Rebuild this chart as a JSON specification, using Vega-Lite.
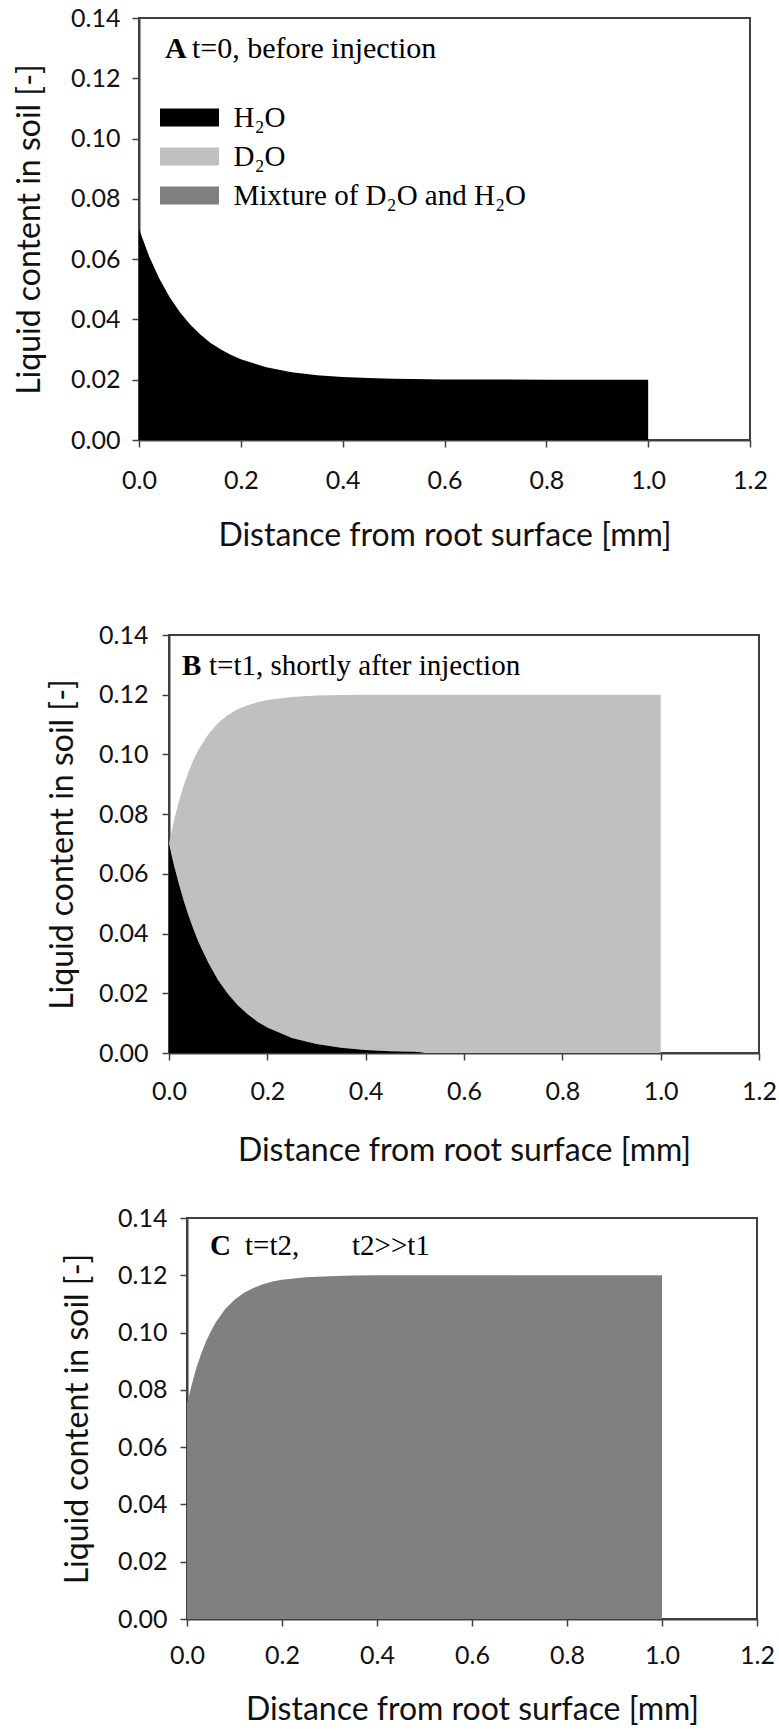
{
  "$schema": "https://vega.github.io/schema/vega-lite/v6.json",
  "padding": {"left": 0, "top": 5, "right": 0, "bottom": 0},
  "autosize": {"type": "pad"},
  "spacing": 70,
  "config": {
    "font": "Lato",
    "view": {"stroke": "#404040", "strokeWidth": 2},
    "axis": {
      "grid": false,
      "domainColor": "#404040",
      "domainWidth": 2,
      "tickColor": "#404040",
      "tickWidth": 1.5,
      "tickSize": 7,
      "labelFont": "Lato",
      "labelFontSize": 25,
      "labelColor": "#111111",
      "titleFont": "Lato",
      "titleFontSize": 32,
      "titleFontWeight": "normal",
      "titleColor": "#111111"
    }
  },
  "datasets": {
    "a": [
      {"x": 0, "h2o": 0.07}, {"x": 0.02, "h2o": 0.0609}, {"x": 0.04, "h2o": 0.0535}, {"x": 0.06, "h2o": 0.0474},
      {"x": 0.08, "h2o": 0.0425}, {"x": 0.1, "h2o": 0.0384}, {"x": 0.12, "h2o": 0.0351}, {"x": 0.14, "h2o": 0.0323},
      {"x": 0.16, "h2o": 0.0301}, {"x": 0.18, "h2o": 0.0283}, {"x": 0.2, "h2o": 0.0268}, {"x": 0.25, "h2o": 0.0241},
      {"x": 0.3, "h2o": 0.0225}, {"x": 0.35, "h2o": 0.0215}, {"x": 0.4, "h2o": 0.0209}, {"x": 0.45, "h2o": 0.0206},
      {"x": 0.5, "h2o": 0.0203}, {"x": 0.6, "h2o": 0.0201}, {"x": 0.8, "h2o": 0.02}, {"x": 1.0, "h2o": 0.02}
    ],
    "b": [
      {"x": 0, "h2o": 0.07, "total": 0.07}, {"x": 0.01, "h2o": 0.063, "total": 0.0777},
      {"x": 0.02, "h2o": 0.0567, "total": 0.0842}, {"x": 0.03, "h2o": 0.051, "total": 0.0897},
      {"x": 0.04, "h2o": 0.0459, "total": 0.0943}, {"x": 0.05, "h2o": 0.0414, "total": 0.0983},
      {"x": 0.06, "h2o": 0.0372, "total": 0.1016}, {"x": 0.08, "h2o": 0.0302, "total": 0.1068},
      {"x": 0.1, "h2o": 0.0244, "total": 0.1106}, {"x": 0.12, "h2o": 0.0198, "total": 0.1132},
      {"x": 0.14, "h2o": 0.016, "total": 0.1152}, {"x": 0.16, "h2o": 0.013, "total": 0.1165},
      {"x": 0.18, "h2o": 0.0105, "total": 0.1175}, {"x": 0.2, "h2o": 0.0085, "total": 0.1182},
      {"x": 0.25, "h2o": 0.005, "total": 0.1192}, {"x": 0.3, "h2o": 0.003, "total": 0.1197},
      {"x": 0.35, "h2o": 0.0018, "total": 0.1199}, {"x": 0.4, "h2o": 0.001, "total": 0.12},
      {"x": 0.45, "h2o": 0.0006, "total": 0.12}, {"x": 0.5, "h2o": 0.0004, "total": 0.12},
      {"x": 0.52, "h2o": 0, "total": 0.12}, {"x": 0.6, "h2o": 0, "total": 0.12}, {"x": 1.0, "h2o": 0, "total": 0.12}
    ],
    "c": [
      {"x": 0, "mix": 0.075}, {"x": 0.01, "mix": 0.0819}, {"x": 0.02, "mix": 0.0878}, {"x": 0.03, "mix": 0.0927},
      {"x": 0.04, "mix": 0.0969}, {"x": 0.05, "mix": 0.1004}, {"x": 0.06, "mix": 0.1034}, {"x": 0.08, "mix": 0.1081},
      {"x": 0.1, "mix": 0.1115}, {"x": 0.12, "mix": 0.1139}, {"x": 0.14, "mix": 0.1156}, {"x": 0.16, "mix": 0.1169},
      {"x": 0.18, "mix": 0.1178}, {"x": 0.2, "mix": 0.1184}, {"x": 0.25, "mix": 0.1193}, {"x": 0.3, "mix": 0.1197},
      {"x": 0.35, "mix": 0.1199}, {"x": 0.4, "mix": 0.12}, {"x": 1.0, "mix": 0.12}
    ]
  },
  "vconcat": [
    {
      "hconcat": [
        {"width": 139, "height": 1, "view": {"stroke": null}, "data": {"values": [{}]}, "mark": {"type": "point", "opacity": 0}, "encoding": {}},
        {
          "width": 611,
          "height": 422,
          "layer": [
            {
              "data": {"name": "a"},
              "mark": {"type": "area"},
              "encoding": {
                "x": {"field": "x", "type": "quantitative", "scale": {"domain": [0, 1.2], "nice": false},
                  "axis": {"title": "Distance from root surface [mm]", "values": [0, 0.2, 0.4, 0.6, 0.8, 1, 1.2], "format": ".1f", "labelFlush": false, "labelBaseline": "middle", "labelPadding": 33, "titleBaseline": "middle", "titleY": 95}},
                "y": {"field": "h2o", "type": "quantitative", "scale": {"domain": [0, 0.14], "nice": false},
                  "axis": {"title": "Liquid content in soil  [-]", "values": [0, 0.02, 0.04, 0.06, 0.08, 0.1, 0.12, 0.14], "format": ".2f", "labelPadding": 12, "titleX": -110, "titleBaseline": "middle"}},
                "color": {"datum": "H₂O", "scale": {"domain": ["H₂O", "D₂O", "Mixture of D₂O and H₂O"], "range": ["#000000", "#c0c0c0", "#808080"]},
                  "legend": {"orient": "none", "legendX": 175, "legendY": 85, "title": null, "padding": 0,
                    "symbolType": "M-3.278,-1L3.278,-1L3.278,1L-3.278,1Z", "symbolSize": 324, "symbolStrokeWidth": 0, "symbolOpacity": 1,
                    "labelFont": "Liberation Serif", "labelFontSize": 29, "labelColor": "#000000", "labelOffset": 29.5, "labelLimit": 500, "rowPadding": 9}}
              }
            },
            {
              "data": {"values": [{"label": "A"}]},
              "mark": {"type": "text", "font": "Liberation Serif", "fontSize": 30, "fontWeight": "bold", "align": "left", "baseline": "alphabetic", "color": "#000000"},
              "encoding": {"text": {"field": "label", "type": "nominal"}, "x": {"datum": 0.0511, "type": "quantitative"}, "y": {"datum": 0.1268, "type": "quantitative"}}
            },
            {
              "data": {"values": [{"label": "t=0, before injection"}]},
              "mark": {"type": "text", "font": "Liberation Serif", "fontSize": 30, "align": "left", "baseline": "alphabetic", "color": "#000000"},
              "encoding": {"text": {"field": "label", "type": "nominal"}, "x": {"datum": 0.1041, "type": "quantitative"}, "y": {"datum": 0.1268, "type": "quantitative"}}
            }
          ]
        }
      ],
      "spacing": 0,
      "bounds": "flush"
    },
    {
      "spacing": 38,
      "vconcat": [
        {
          "hconcat": [
            {"width": 169, "height": 1, "view": {"stroke": null}, "data": {"values": [{}]}, "mark": {"type": "point", "opacity": 0}, "encoding": {}},
            {
              "width": 590,
              "height": 418,
              "layer": [
                {
                  "data": {"name": "b"},
                  "mark": {"type": "area"},
                  "encoding": {
                    "x": {"field": "x", "type": "quantitative", "scale": {"domain": [0, 1.2], "nice": false},
                      "axis": {"title": "Distance from root surface [mm]", "values": [0, 0.2, 0.4, 0.6, 0.8, 1, 1.2], "format": ".1f", "labelFlush": false, "labelBaseline": "middle", "labelPadding": 31.5, "titleBaseline": "middle", "titleY": 97}},
                    "y": {"field": "total", "type": "quantitative", "scale": {"domain": [0, 0.14], "nice": false},
                      "axis": {"title": "Liquid content in soil  [-]", "values": [0, 0.02, 0.04, 0.06, 0.08, 0.1, 0.12, 0.14], "format": ".2f", "labelPadding": 14, "titleX": -107, "titleBaseline": "middle"}},
                    "y2": {"field": "h2o"},
                    "color": {"datum": "D₂O", "scale": {"domain": ["H₂O", "D₂O", "Mixture of D₂O and H₂O"], "range": ["#000000", "#c0c0c0", "#808080"]}}
                  }
                },
                {
                  "data": {"name": "b"},
                  "mark": {"type": "area"},
                  "encoding": {
                    "x": {"field": "x", "type": "quantitative", "scale": {"domain": [0, 1.2], "nice": false},
                      "axis": {"title": "Distance from root surface [mm]", "values": [0, 0.2, 0.4, 0.6, 0.8, 1, 1.2], "format": ".1f", "labelFlush": false, "labelBaseline": "middle", "labelPadding": 31.5, "titleBaseline": "middle", "titleY": 97}},
                    "y": {"field": "h2o", "type": "quantitative", "scale": {"domain": [0, 0.14], "nice": false},
                      "axis": {"title": "Liquid content in soil  [-]", "values": [0, 0.02, 0.04, 0.06, 0.08, 0.1, 0.12, 0.14], "format": ".2f", "labelPadding": 14, "titleX": -107, "titleBaseline": "middle"}},
                    "color": {"datum": "H₂O", "scale": {"domain": ["H₂O", "D₂O", "Mixture of D₂O and H₂O"], "range": ["#000000", "#c0c0c0", "#808080"]}}
                  }
                },
                {
                  "data": {"values": [{"label": "B"}]},
                  "mark": {"type": "text", "font": "Liberation Serif", "fontSize": 29, "fontWeight": "bold", "align": "left", "baseline": "alphabetic", "color": "#000000"},
                  "encoding": {"text": {"field": "label", "type": "nominal"}, "x": {"datum": 0.0264, "type": "quantitative"}, "y": {"datum": 0.1266, "type": "quantitative"}}
                },
                {
                  "data": {"values": [{"label": "t=t1, shortly after injection"}]},
                  "mark": {"type": "text", "font": "Liberation Serif", "fontSize": 29, "align": "left", "baseline": "alphabetic", "color": "#000000"},
                  "encoding": {"text": {"field": "label", "type": "nominal"}, "x": {"datum": 0.0814, "type": "quantitative"}, "y": {"datum": 0.1266, "type": "quantitative"}}
                }
              ]
            }
          ],
          "spacing": 0,
          "bounds": "flush"
        },
        {
          "hconcat": [
            {"width": 187, "height": 1, "view": {"stroke": null}, "data": {"values": [{}]}, "mark": {"type": "point", "opacity": 0}, "encoding": {}},
            {
              "width": 570,
              "height": 401,
              "layer": [
                {
                  "data": {"name": "c"},
                  "mark": {"type": "area"},
                  "encoding": {
                    "x": {"field": "x", "type": "quantitative", "scale": {"domain": [0, 1.2], "nice": false},
                      "axis": {"title": "Distance from root surface [mm]", "values": [0, 0.2, 0.4, 0.6, 0.8, 1, 1.2], "format": ".1f", "labelFlush": false, "labelBaseline": "middle", "labelPadding": 29, "titleBaseline": "middle", "titleY": 90}},
                    "y": {"field": "mix", "type": "quantitative", "scale": {"domain": [0, 0.14], "nice": false},
                      "axis": {"title": "Liquid content in soil  [-]", "values": [0, 0.02, 0.04, 0.06, 0.08, 0.1, 0.12, 0.14], "format": ".2f", "labelPadding": 13, "titleX": -110, "titleBaseline": "middle"}},
                    "color": {"datum": "Mixture of D₂O and H₂O", "scale": {"domain": ["H₂O", "D₂O", "Mixture of D₂O and H₂O"], "range": ["#000000", "#c0c0c0", "#808080"]}}
                  }
                },
                {
                  "data": {"values": [{"label": "C"}]},
                  "mark": {"type": "text", "font": "Liberation Serif", "fontSize": 29, "fontWeight": "bold", "align": "left", "baseline": "alphabetic", "color": "#000000"},
                  "encoding": {"text": {"field": "label", "type": "nominal"}, "x": {"datum": 0.0484, "type": "quantitative"}, "y": {"datum": 0.1272, "type": "quantitative"}}
                },
                {
                  "data": {"values": [{"label": "t=t2,"}]},
                  "mark": {"type": "text", "font": "Liberation Serif", "fontSize": 29, "align": "left", "baseline": "alphabetic", "color": "#000000"},
                  "encoding": {"text": {"field": "label", "type": "nominal"}, "x": {"datum": 0.1221, "type": "quantitative"}, "y": {"datum": 0.1272, "type": "quantitative"}}
                },
                {
                  "data": {"values": [{"label": "t2>>t1"}]},
                  "mark": {"type": "text", "font": "Liberation Serif", "fontSize": 29, "align": "left", "baseline": "alphabetic", "color": "#000000"},
                  "encoding": {"text": {"field": "label", "type": "nominal"}, "x": {"datum": 0.3474, "type": "quantitative"}, "y": {"datum": 0.1272, "type": "quantitative"}}
                }
              ]
            }
          ],
          "spacing": 0,
          "bounds": "flush"
        }
      ]
    }
  ]
}
